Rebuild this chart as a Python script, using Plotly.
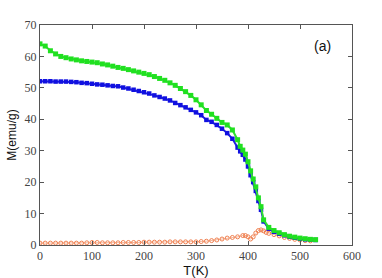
import plotly.graph_objects as go

# Temperature grid for the two main series
T_main = [0, 10, 20, 30, 40, 50, 60, 70, 80, 90, 100, 110, 120, 130, 140, 150, 160, 170, 180, 190,
          200, 210, 220, 230, 240, 250, 260, 270, 280, 290, 300, 310, 320, 330, 340, 350, 360, 370, 380,
          385, 390, 395, 400, 405, 410, 415, 420, 425, 430, 440, 450, 460, 470, 480, 490, 500, 510, 520, 530]

M_green = [64.0, 63.3, 61.8, 60.8, 60.0, 59.6, 59.2, 58.9, 58.6, 58.4, 58.2, 58.0, 57.6, 57.3, 56.9, 56.5,
           56.2, 55.8, 55.4, 55.0, 54.6, 54.2, 53.6, 53.0, 52.4, 51.6, 50.8, 49.8, 48.8, 47.6, 46.2, 44.6,
           42.8, 41.6, 40.3, 39.0, 38.2, 36.6, 33.5, 31.4, 30.2, 28.9, 26.5, 23.6, 21.0, 18.5, 15.0, 12.2,
           8.0, 5.6, 4.6, 3.9, 3.3, 2.8, 2.5, 2.2, 2.0, 1.8, 1.7]

M_blue = [52.1, 52.1, 52.1, 52.0, 52.0, 52.0, 51.9, 51.8, 51.6, 51.5, 51.3, 51.1, 51.0, 50.8, 50.6, 50.5,
          50.1, 49.8, 49.4, 49.0, 48.6, 48.2, 47.6, 47.1, 46.6, 46.0, 45.2, 44.5, 43.8, 43.0, 42.2, 41.3,
          39.8, 39.2, 38.2, 37.0, 35.6, 33.8, 31.0, 29.8, 28.7, 27.2, 25.0, 22.2, 20.0, 17.2, 14.0, 11.2,
          7.5, 5.2, 4.2, 3.6, 3.1, 2.6, 2.3, 2.0, 1.8, 1.7, 1.6]

T_orange = [0, 10, 20, 30, 40, 50, 60, 70, 80, 90, 100, 110, 120, 130, 140, 150, 160, 170, 180, 190,
            200, 210, 220, 230, 240, 250, 260, 270, 280, 290, 300, 310, 320, 330, 340, 350, 360, 370, 380,
            390, 395, 400, 405, 410, 415, 420, 425, 430, 435, 440, 450, 460, 470, 480, 490, 500, 510, 520]
M_orange = [0.6, 0.6, 0.6, 0.6, 0.6, 0.6, 0.6, 0.6, 0.6, 0.7, 0.8, 0.8, 0.7, 0.7, 0.7, 0.7, 0.8, 0.8, 0.8, 0.8,
            0.9, 0.9, 0.9, 0.9, 0.9, 1.0, 1.0, 1.0, 1.0, 1.0, 1.0, 1.1, 1.2, 1.4, 1.6, 1.9, 2.2, 2.4, 2.6,
            3.0, 3.0, 2.6, 1.9, 2.6, 3.8, 4.6, 4.8, 4.5, 4.0, 3.7, 3.3, 2.9, 2.4, 2.1, 1.8, 1.6, 1.4, 1.3]

x_ticks = [0, 100, 200, 300, 400, 500, 600]
y_ticks = [0, 10, 20, 30, 40, 50, 60, 70]

fig = go.Figure()
fig.add_trace(go.Scatter(x=T_orange, y=M_orange, mode="lines+markers",
                         line=dict(color="#f4a582", width=0.8),
                         marker=dict(symbol="circle-open", size=4, color="#f08050", line=dict(width=1))))
fig.add_trace(go.Scatter(x=T_main, y=M_blue, mode="lines+markers",
                         line=dict(color="#2020e0", width=2),
                         marker=dict(symbol="square", size=4.5, color="#1010e0")))
fig.add_trace(go.Scatter(x=T_main, y=M_green, mode="lines+markers",
                         line=dict(color="#30e030", width=2),
                         marker=dict(symbol="square", size=5, color="#20e020")))

axis_common = dict(showline=True, linecolor="#555", linewidth=1, mirror="ticks",
                   ticks="inside", ticklen=4, tickcolor="#555", showgrid=False, zeroline=False,
                   automargin=False,
                   tickfont=dict(family="Liberation Serif", size=12, color="#444"))

fig.update_layout(
    width=382, height=278,
    margin=dict(l=40, r=30, t=25, b=33),
    plot_bgcolor="white", paper_bgcolor="white",
    showlegend=False,
    xaxis=dict(range=[0, 600], tickvals=x_ticks, ticktext=[str(v) for v in x_ticks],
               title=dict(text="T(K)", font=dict(family="Liberation Sans", size=13, color="#111"), standoff=2),
               **axis_common),
    yaxis=dict(range=[0, 70], tickvals=y_ticks, ticktext=[str(v) for v in y_ticks],
               title=dict(text="M(emu/g)", font=dict(family="Liberation Sans", size=12, color="#111"), standoff=5),
               **axis_common),
    annotations=[dict(x=543, y=63.2, xref="x", yref="y", text="(a)", showarrow=False,
                      font=dict(family="Liberation Sans", size=14, color="#111"))],
)

fig.write_html("out.html", config={"displayModeBar": False},
               post_script="document.body.style.margin='0';document.body.style.padding='0';")
